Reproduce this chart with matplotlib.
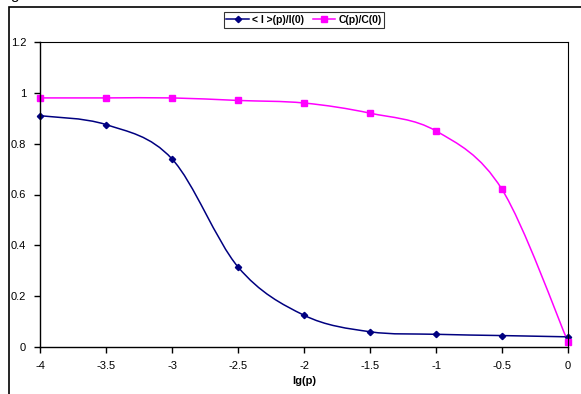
import matplotlib
matplotlib.use("Agg")
import matplotlib.pyplot as plt
import numpy as np
from matplotlib.path import Path
from matplotlib.patches import PathPatch, Rectangle

plt.rcParams['font.family'] = ['Liberation Sans', 'DejaVu Sans']

lg_p = [-4, -3.5, -3, -2.5, -2, -1.5, -1, -0.5, 0]
i_ratio = [0.91, 0.875, 0.74, 0.315, 0.125, 0.06, 0.05, 0.045, 0.04]
c_ratio = [0.98, 0.98, 0.98, 0.97, 0.96, 0.92, 0.85, 0.62, 0.02]
y_ticks = [0, 0.2, 0.4, 0.6, 0.8, 1, 1.2]
x_ticks = [-4, -3.5, -3, -2.5, -2, -1.5, -1, -0.5, 0]


def smooth_path(x, y):
    # Excel-style smoothed line: cubic Bezier through the points
    x = np.asarray(x, float)
    y = np.asarray(y, float)
    n = len(x)
    verts = [(x[0], y[0])]
    codes = [Path.MOVETO]
    for i in range(n - 1):
        p0 = np.array([x[max(i - 1, 0)], y[max(i - 1, 0)]])
        p1 = np.array([x[i], y[i]])
        p2 = np.array([x[i + 1], y[i + 1]])
        p3 = np.array([x[min(i + 2, n - 1)], y[min(i + 2, n - 1)]])
        c1 = p1 + (p2 - p0) / 6
        c2 = p2 - (p3 - p1) / 6
        verts += [tuple(c1), tuple(c2), tuple(p2)]
        codes += [Path.CURVE4] * 3
    return Path(verts, codes)


fig = plt.figure(figsize=(5.81, 3.94), dpi=100)
ax = fig.add_axes([40 / 581, 1 - 347 / 394, 528 / 581, 305 / 394])

blue = '#000080'
pink = '#FF00FF'

ax.add_patch(PathPatch(smooth_path(lg_p, i_ratio), fill=False, edgecolor=blue, lw=1.1))
ax.add_patch(PathPatch(smooth_path(lg_p, c_ratio), fill=False, edgecolor=pink, lw=1.1))
ax.plot(lg_p, i_ratio, linestyle='none', marker='D', ms=3.2, color=blue, clip_on=False)
ax.plot(lg_p, c_ratio, linestyle='none', marker='s', ms=4.2, color=pink, clip_on=False)

# legend handles
h1, = ax.plot([], [], color=blue, marker='D', ms=3.2, lw=1.1, label='< I >(p)/I(0)')
h2, = ax.plot([], [], color=pink, marker='s', ms=4.2, lw=1.1, label='C(p)/C(0)')
leg = fig.legend(handles=[h1, h2], loc='center', bbox_to_anchor=(304 / 581, 1 - 20 / 394),
                 ncol=2, frameon=True, fancybox=False, edgecolor='black',
                 prop={'size': 7.5, 'weight': 'bold'}, handlelength=2.2,
                 handletextpad=0.3, columnspacing=0.8, borderpad=0.25)
leg.get_frame().set_linewidth(0.8)

ax.set_xlim(-4, 0)
ax.set_ylim(0, 1.2)
ax.set_xticks(x_ticks)
ax.set_xticklabels([f'{v:g}' for v in x_ticks])
ax.set_yticks(y_ticks)
ax.set_yticklabels([f'{v:g}' for v in y_ticks])
ax.tick_params(direction='out', length=4, width=1, labelsize=8, pad=6)
for s in ax.spines.values():
    s.set_linewidth(1)
ax.spines['top'].set_linewidth(0.8)
ax.spines['right'].set_linewidth(0.8)
ax.set_xlabel('lg(p)', fontsize=8, fontweight='bold', labelpad=4)

# outer chart frame, partly cut by the image edges
fig.patches.append(Rectangle((9 / 581, -0.1), 1.2, 1 - 7 / 394 + 0.1,
                             transform=fig.transFigure, fill=False,
                             edgecolor='black', lw=1.2))
fig.text(10 / 581, 1 + 1 / 394, 'g', fontsize=11, va='baseline', ha='left')

fig.savefig('out.png', dpi=100)
